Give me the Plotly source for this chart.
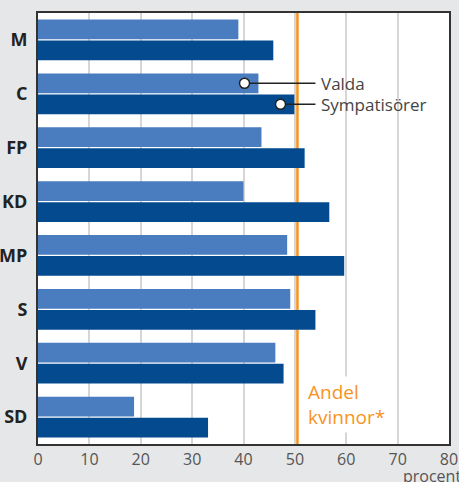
import plotly.graph_objects as go

parties = ["M", "C", "FP", "KD", "MP", "S", "V", "SD"]
valda = [39.0, 42.9, 43.5, 40.0, 48.5, 49.1, 46.2, 18.7]
sympatisorer = [45.8, 49.9, 51.9, 56.7, 59.6, 54.0, 47.8, 33.1]
andel_kvinnor = 50.5
x_ticks = [0, 10, 20, 30, 40, 50, 60, 70, 80]

C_VALDA = "#4a7cc0"
C_SYMP = "#034a8f"
C_ORANGE = "#f7931e"
BG = "#e6e7e8"
FONT = "Open Sans"

fig = go.Figure()
fig.add_trace(go.Bar(y=parties, x=valda, orientation="h", name="Valda",
                     marker=dict(color=C_VALDA, line=dict(width=0))))
fig.add_trace(go.Bar(y=parties, x=sympatisorer, orientation="h", name="Sympatisörer",
                     marker=dict(color=C_SYMP, line=dict(width=0))))

# callout legend on the C bars (numeric overlay axis)
ci = parties.index("C")
off = 0.195
label_x = 54.0
for name, val, dy, dx in [("Valda", valda[ci], -off, 2.7), ("Sympatisörer", sympatisorer[ci], off, 2.7)]:
    fig.add_trace(go.Scatter(x=[val - dx, label_x], y=[ci + dy, ci + dy], yaxis="y2",
                             mode="lines", line=dict(color="#222", width=1.5),
                             showlegend=False, hoverinfo="skip"))
    fig.add_trace(go.Scatter(x=[val - dx], y=[ci + dy], yaxis="y2", mode="markers",
                             marker=dict(size=10, color="#ffffff", opacity=1,
                                         line=dict(color="#222", width=1.5)),
                             showlegend=False, hoverinfo="skip"))
    fig.add_annotation(x=label_x + 0.6, y=ci + dy, xref="x", yref="y2", text=name,
                       showarrow=False, xanchor="left", yanchor="middle",
                       font=dict(family=FONT, size=17, color="#444"))

fig.add_shape(type="line", x0=andel_kvinnor, x1=andel_kvinnor, y0=0, y1=1,
              xref="x", yref="paper", layer="below",
              line=dict(color=C_ORANGE, width=2.5))
fig.add_annotation(x=andel_kvinnor + 1.4, y=0.092, xref="x", yref="paper",
                   text="Andel<br>kvinnor*", showarrow=False, xanchor="left", yanchor="middle",
                   align="left", bgcolor="white", borderpad=2,
                   font=dict(family=FONT, size=19, color=C_ORANGE))
fig.add_annotation(x=0.883, y=-0.074, xref="paper", yref="paper", text="procent",
                   showarrow=False, xanchor="left", yanchor="middle",
                   font=dict(family=FONT, size=16, color="#555"))

fig.update_layout(
    width=459, height=482,
    margin=dict(l=38, r=10, t=13, b=38, autoexpand=False),
    paper_bgcolor=BG, plot_bgcolor="white",
    barmode="group", bargap=0.22, bargroupgap=0.06,
    showlegend=False,
    xaxis=dict(range=[0, 80], tickvals=x_ticks, showgrid=True, gridcolor="#d6d6d6", gridwidth=1.5,
               zeroline=False, showline=True, linecolor="#333", linewidth=2, mirror=True,
               ticks="", automargin=False, tickfont=dict(family=FONT, size=16, color="#555")),
    yaxis=dict(categoryorder="array", categoryarray=parties, autorange="reversed",
               showgrid=False, showline=True, linecolor="#333", linewidth=2, mirror=True,
               ticks="", ticklabelstandoff=5, automargin=False,
               tickfont=dict(family=FONT, size=18, color="#222", weight="bold")),
    yaxis2=dict(overlaying="y", range=[len(parties) - 0.5, -0.5], visible=False),
)

fig.write_html(
    "out.html",
    config={"displayModeBar": False},
    post_script="document.body.style.margin='0';document.body.style.overflow='hidden';"
                "document.body.style.background='#e6e7e8';",
)
